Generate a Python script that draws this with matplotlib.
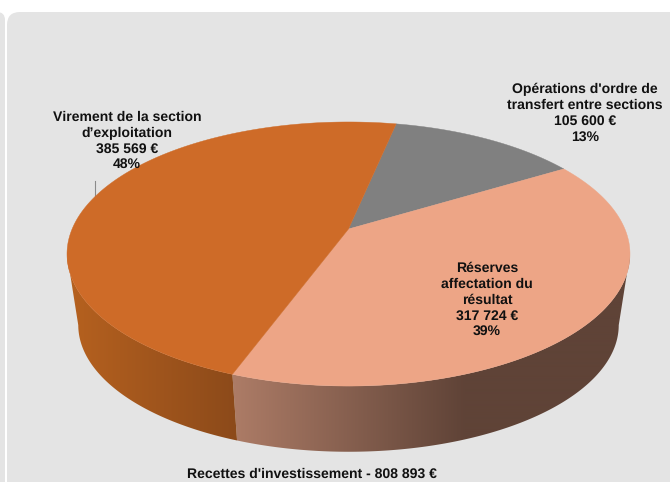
import matplotlib
matplotlib.use("Agg")
import matplotlib.pyplot as plt
from matplotlib.colors import to_rgb
from matplotlib.patches import FancyBboxPatch, Polygon
import numpy as np

plt.rcParams["text.hinting"] = "none"
plt.rcParams["text.hinting_factor"] = 1

# valeurs, dans le sens horaire a partir du haut
categories = ["Opérations d'ordre de\ntransfert entre sections",
              "Réserves\naffectation du\nrésultat",
              "Virement de la section\nd’exploitation"]
values = [105600, 317724, 385569]
amounts = ["105 600 €", "317 724 €", "385 569 €"]
percents = ["13%", "39%", "48%"]
title = "Recettes d'investissement - 808 893 €"

top_colors = ["#808080", "#EDA586", "#CE6B28"]
side_left = ["#808080", "#AC7B66", "#B4601F"]
side_right = ["#808080", "#5F4337", "#8C4A1A"]
ramp_start = [0, 236, 76]
ramp_end = [1, 465, 236]
label_pos = [(585, 113), (487, 300), (127, 141)]

# geometrie de la perspective (pixels)
apex = (348.5, 229)
bottom_apex = (348.5, 301)
bottom_scale = 0.96
persp = 0.1894
rx = 276.4
ry = 127.3
start = np.radians(11.8)


def rim(theta, center=apex, scale=1.0):
    # theta mesure depuis le haut, sens horaire
    x = np.sin(theta)
    y = np.cos(theta)
    w = 1 + persp * y
    return center[0] + scale * rx * x / w, center[1] - scale * ry * y / w


fig = plt.figure(figsize=(6.7, 4.82), dpi=100)
ax = fig.add_axes([0, 0, 1, 1])
ax.set_xlim(0, 670)
ax.set_ylim(482, 0)
ax.axis("off")

# fonds arrondis
ax.add_patch(FancyBboxPatch((7, 12), 700, 520, boxstyle="round,pad=0,rounding_size=13",
                            fc="#E4E4E4", ec="none", zorder=0))
ax.add_patch(FancyBboxPatch((-60, 12), 65, 520, boxstyle="round,pad=0,rounding_size=8",
                            fc="#E4E4E4", ec="none", zorder=0))
ax.plot([95.3, 95.3], [181, 197], color="#8A8A8A", lw=0.8, zorder=1)

bounds = start + 2 * np.pi * np.concatenate([[0], np.cumsum(values)]) / sum(values)

# flanc du camembert, degrade horizontal coupe par le contour
for i in range(len(values)):
    a0 = max(bounds[i], np.radians(101))
    a1 = min(bounds[i + 1], np.radians(259))
    if a1 <= a0:
        continue
    t = np.linspace(a0, a1, 200)
    xt, yt = rim(t)
    xb, yb = rim(t, bottom_apex, bottom_scale)
    pts = np.column_stack([np.r_[xt, xb[::-1]], np.r_[yt, yb[::-1]]])
    outline = Polygon(pts, closed=True, fc="none", ec="none", transform=ax.transData)
    ax.add_patch(outline)
    cols = np.arange(60, 640)
    ramp = np.clip((cols - ramp_start[i]) / (ramp_end[i] - ramp_start[i]), 0, 1)
    c0 = np.array(to_rgb(side_left[i]))
    c1 = np.array(to_rgb(side_right[i]))
    img = (c0 + (c1 - c0) * ramp[:, None])[None, :, :]
    im = ax.imshow(img, extent=(60, 640, 460, 240), aspect="auto", zorder=2, interpolation="bilinear")
    im.set_clip_path(outline)
ax.set_xlim(0, 670)
ax.set_ylim(482, 0)

# dessus du camembert
for i in range(len(values)):
    t = np.linspace(bounds[i], bounds[i + 1], 300)
    xt, yt = rim(t)
    pts = np.column_stack([np.r_[apex[0], xt], np.r_[apex[1], yt]])
    ax.add_patch(Polygon(pts, closed=True, fc=top_colors[i], ec=top_colors[i], lw=0.3, zorder=3))

font = dict(family="Liberation Sans", fontweight="bold", fontsize=10, color="#111111",
            ha="center", va="center", linespacing=1.27, zorder=5)
for i in range(len(values)):
    txt = categories[i] + "\n" + amounts[i] + "\n" + percents[i]
    ax.text(label_pos[i][0], label_pos[i][1], txt, **font)
ax.text(312, 474.5, title, **font)

fig.savefig("out.png", dpi=100)
